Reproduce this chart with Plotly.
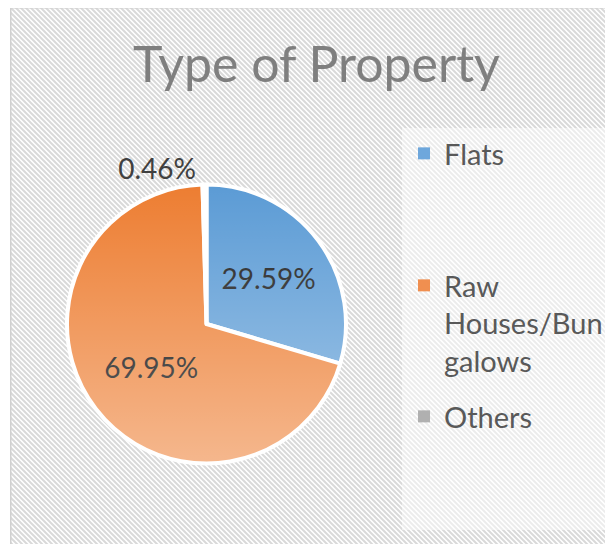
import base64
import plotly.graph_objects as go

# ---------------- data ----------------
categories = ["Flats", "Raw Houses/Bungalows", "Others"]
legend_labels = ["Flats", "Raw<br>Houses/Bun<br>galows", "Others"]
shares = [29.59, 69.95, 0.46]
title_text = "Type of Property"

# ---------------- styles ----------------
slice_colors = ["#5b9bd5", "#ed7d31", "#a5a5a5"]
legend_colors = ["#6ea7dc", "#f08f50", "#b0b0b0"]
label_colors = ["#1a1a1a", "#000000", "#404040"]
FONT = "Lato"
W, H = 613, 544
OFF = 8  # page body margin: page pixel = figure pixel + OFF


def px(x):
    return (x - OFF) / W


def py(y):
    return 1 - (y - OFF) / H


# pie geometry (page pixels)
CX, CY, R = 206.5, 324.0, 139.5


def data_uri(svg):
    return "data:image/svg+xml;base64," + base64.b64encode(svg.encode()).decode()


bg_x0, bg_y0 = 10, 7
bg_w, bg_h = W + OFF - bg_x0, H + OFF - bg_y0
bg_svg = (
    f'<svg xmlns="http://www.w3.org/2000/svg" width="{bg_w}" height="{bg_h}" '
    f'viewBox="0 0 {bg_w} {bg_h}">'
    '<defs><pattern id="p" width="5" height="5" patternUnits="userSpaceOnUse">'
    '<path d="M-1,-1 L6,6 M-1,4 L1,6 M4,-1 L6,1" stroke="#d9d9d9" stroke-width="2"/>'
    '</pattern></defs>'
    '<rect width="100%" height="100%" fill="#ffffff"/>'
    '<rect width="100%" height="100%" fill="url(#p)"/>'
    f'<rect x="0.75" y="0.75" width="{bg_w - 1.5}" height="{bg_h - 1.5}" fill="none" '
    'stroke="#d0d0d0" stroke-width="1.5"/>'
    '</svg>'
)

d = 2 * R
grad_svg = (
    f'<svg xmlns="http://www.w3.org/2000/svg" width="{d}" height="{d}" viewBox="0 0 {d} {d}">'
    '<defs><linearGradient id="g" x1="0" y1="0" x2="0" y2="1">'
    '<stop offset="0" stop-color="#ffffff" stop-opacity="0"/>'
    '<stop offset="1" stop-color="#ffffff" stop-opacity="0.45"/>'
    '</linearGradient></defs>'
    f'<circle cx="{R}" cy="{R}" r="{R + 1}" fill="url(#g)"/>'
    '</svg>'
)

fig = go.Figure()

fig.add_trace(go.Pie(
    labels=categories,
    values=shares,
    sort=False,
    direction="clockwise",
    rotation=0,
    texttemplate="%{percent:.2%}",
    textposition=["inside", "inside", "outside"],
    insidetextorientation="horizontal",
    textfont=dict(family=FONT, size=28, color=label_colors),
    marker=dict(colors=slice_colors, line=dict(color="#ffffff", width=4)),
    domain=dict(x=[px(CX - R), px(CX + R)], y=[py(CY + R), py(CY - R)]),
    showlegend=False,
    hoverinfo="label+percent",
))

legend_tops = [128, 260, 391]
for i, (lab, col) in enumerate(zip(legend_labels, legend_colors)):
    fig.add_trace(go.Scatter(
        x=[None], y=[None], mode="markers",
        marker=dict(symbol="square", size=12, color=col, line=dict(width=0)),
        name=lab,
        legend="legend" if i == 0 else f"legend{i + 1}",
        showlegend=True,
        hoverinfo="skip",
    ))

legend_style = dict(
    x=px(404), xanchor="left", yanchor="top",
    bgcolor="rgba(0,0,0,0)", borderwidth=0,
    font=dict(family=FONT, size=29, color="#595959"),
    valign="top", itemsizing="trace",
)

fig.update_layout(
    width=W, height=H,
    margin=dict(l=0, r=0, t=0, b=0),
    paper_bgcolor="#ffffff",
    plot_bgcolor="rgba(0,0,0,0)",
    xaxis=dict(visible=False),
    yaxis=dict(visible=False),
    title=dict(text=title_text, x=px(316.5), xanchor="center",
               y=py(64), yanchor="middle",
               font=dict(family=FONT, size=50, color="#7f7f7f")),
    legend=dict(legend_style, y=py(legend_tops[0])),
    legend2=dict(legend_style, y=py(legend_tops[1])),
    legend3=dict(legend_style, y=py(legend_tops[2])),
    images=[
        dict(source=data_uri(bg_svg), xref="paper", yref="paper",
             x=px(bg_x0), y=py(bg_y0), sizex=bg_w / W, sizey=bg_h / H,
             xanchor="left", yanchor="top", sizing="stretch", layer="below"),
        dict(source=data_uri(grad_svg), xref="paper", yref="paper",
             x=px(CX - R), y=py(CY - R), sizex=d / W, sizey=d / H,
             xanchor="left", yanchor="top", sizing="stretch", layer="above"),
    ],
    shapes=[
        dict(type="rect", xref="paper", yref="paper",
             x0=px(402), x1=px(W + OFF), y0=py(530), y1=py(128),
             fillcolor="rgba(255,255,255,0.5)", line=dict(width=0), layer="below"),
    ],
)

fig.write_html("out.html")
